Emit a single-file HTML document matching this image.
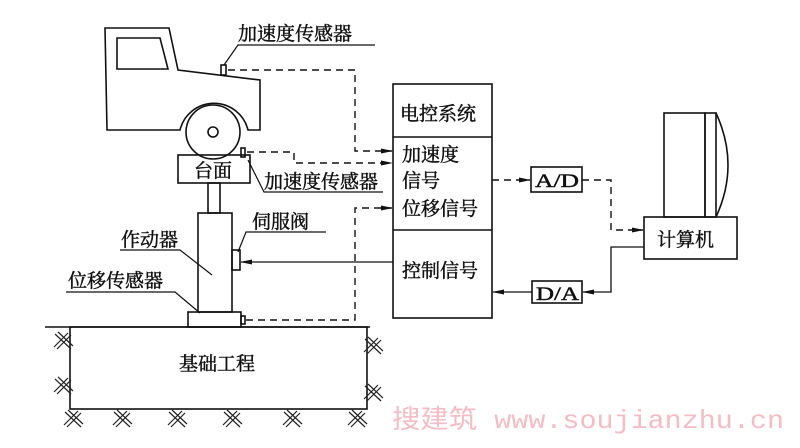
<!DOCTYPE html>
<html><head><meta charset="utf-8"><style>
html,body{margin:0;padding:0;background:#fff;}
svg{display:block;}
text{font-family:"Liberation Serif","Noto Serif CJK SC","Noto Sans CJK SC",serif;fill:#111;}
.t text{stroke:#111;stroke-width:0.45;}
</style></head><body>
<svg width="800" height="448" viewBox="0 0 800 448" xmlns="http://www.w3.org/2000/svg">
<defs>
<marker id="a" markerWidth="12" markerHeight="8" refX="11" refY="4" orient="auto" markerUnits="userSpaceOnUse">
<path d="M0,1.5 L12,4 L0,6.5 Z" fill="#111"/></marker>
<g id="h" stroke="#222" stroke-width="1.2" fill="none">
<path d="M-9,7 L5,-7 M-6,9 L8,-5 M-8,-6 L8,9 M-5,-8 L10,6"/></g>
</defs>
<g stroke="#111" stroke-width="1.6" fill="none">
<path d="M107,28 L169,28 L178,70 L260,80 L260,130 L248,130 A35,35 0 0 0 180,130 L107,130 L105,28 Z"/>
<path d="M117,38 L160,38 L168,69 L117,69 Z"/>
<circle cx="213" cy="132" r="27"/>
<circle cx="213" cy="132" r="5"/>
<rect x="221" y="65" width="5" height="10"/>
<rect x="241" y="148" width="4" height="9"/>
<rect x="178" y="155" width="72" height="28"/>
<path d="M224,65 L238,45 L375,45" stroke-width="1.2"/>
<path d="M248,160 L264,192 L383,192" stroke-width="1.2"/>
<path d="M238,252 L246,232 L326,232" stroke-width="1.2"/>
<path d="M120,250 L180,250 L212,275" stroke-width="1.2"/>
<path d="M66,292 L175,292 L200,313" stroke-width="1.2"/>
<rect x="208" y="183" width="12" height="30"/>
<rect x="198" y="213" width="34" height="99"/>
<rect x="232" y="250" width="8" height="20"/>
<rect x="188" y="312" width="53" height="15"/>
<rect x="241" y="316" width="4" height="8"/>
<path d="M45,327 L370,327"/>
<rect x="70" y="327" width="297" height="82"/>
<rect x="393" y="84" width="99" height="234"/>
<path d="M393,137 L492,137 M393,230 L492,230"/>
<rect x="531" y="167" width="51" height="25"/>
<rect x="532" y="281" width="50" height="22"/>
<rect x="644" y="217" width="93" height="42"/>
<rect x="664" y="113" width="41" height="104"/>
<rect x="705" y="113" width="11" height="104"/>
<path d="M716,113 Q740,165 716,217"/>
</g>
<g stroke="#111" stroke-width="1.4" fill="none" stroke-dasharray="7,5">
<path d="M228,70 L355,70 L355,151 L392,151" marker-end="url(#a)"/>
<path d="M247,152 L294,152 L294,163 L392,163" marker-end="url(#a)"/>
<path d="M246,320 L355,320 L355,208 L392,208" marker-end="url(#a)"/>
<path d="M492,180 L530,180" marker-end="url(#a)"/>
<path d="M582,180 L611,180 L611,230 L643,230" marker-end="url(#a)"/>
</g>
<g stroke="#111" stroke-width="1.3" fill="none">
<path d="M393,262 L241,262" marker-end="url(#a)"/>
<path d="M644,247 L611,247 L611,292 L583,292" marker-end="url(#a)"/>
<path d="M532,292 L493,292" marker-end="url(#a)"/>
</g>
<use href="#h" x="63" y="340"/><use href="#h" x="63" y="385"/>
<use href="#h" x="373" y="345"/><use href="#h" x="373" y="392"/>
<use href="#h" x="73" y="418"/><use href="#h" x="122" y="418"/><use href="#h" x="177" y="418"/>
<use href="#h" x="232" y="418"/><use href="#h" x="292" y="418"/><use href="#h" x="357" y="418"/>
<g font-size="19" class="t">
<text x="238" y="40">加速度传感器</text>
<text x="194" y="177">台面</text>
<text x="264" y="188">加速度传感器</text>
<text x="252" y="228">伺服阀</text>
<text x="121" y="246">作动器</text>
<text x="68" y="287">位移传感器</text>
<text x="179" y="370">基础工程</text>
<text x="400" y="120">电控系统</text>
<text x="402" y="161">加速度</text>
<text x="402" y="187">信号</text>
<text x="402" y="215">位移信号</text>
<text x="402" y="277">控制信号</text>
<text x="657" y="246">计算机</text>
<text x="535" y="187" font-size="19" textLength="44" lengthAdjust="spacingAndGlyphs">A/D</text>
<text x="536" y="300" font-size="19" textLength="43" lengthAdjust="spacingAndGlyphs">D/A</text>
</g>
<text x="392" y="428" font-size="26" style="fill:#f5bcc4;font-family:'Liberation Mono','Noto Sans CJK SC',monospace" textLength="392" lengthAdjust="spacingAndGlyphs">搜建筑 www.soujianzhu.cn</text>
</svg>
</body></html>
